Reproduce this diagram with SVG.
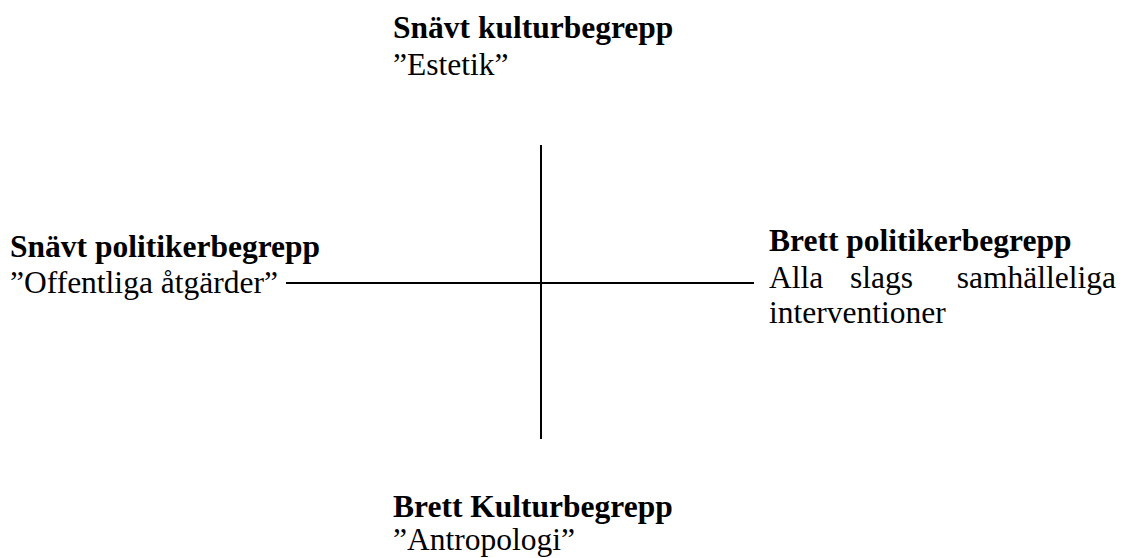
<svg xmlns="http://www.w3.org/2000/svg" width="1126" height="558" viewBox="0 0 1126 558">
<style>
text{font-family:"Liberation Serif","Times New Roman",serif;font-size:31.5px;fill:#000}
.b{font-weight:bold}
.ax{stroke:#000;stroke-width:2;fill:none}
</style>
<rect width="1126" height="558" fill="#fff"/>
<g id="connectors">
<line class="ax" x1="541" y1="145" x2="541" y2="439"/>
<line class="ax" x1="286" y1="283" x2="754" y2="283"/>
</g>
<g id="top">
<text class="b" x="393" y="38">Snävt kulturbegrepp</text>
<text x="393" y="75">”Estetik”</text>
</g>
<g id="left">
<text class="b" x="10" y="257">Snävt politikerbegrepp</text>
<text x="10" y="293">”Offentliga åtgärder”</text>
</g>
<g id="right">
<text class="b" x="769" y="251">Brett politikerbegrepp</text>
<text y="288"><tspan x="769">Alla</tspan><tspan x="850">slags</tspan><tspan x="1116" text-anchor="end">samhälleliga</tspan></text>
<text x="769" y="323">interventioner</text>
</g>
<g id="bottom">
<text class="b" x="393" y="517">Brett Kulturbegrepp</text>
<text x="393" y="550">”Antropologi”</text>
</g>
</svg>
